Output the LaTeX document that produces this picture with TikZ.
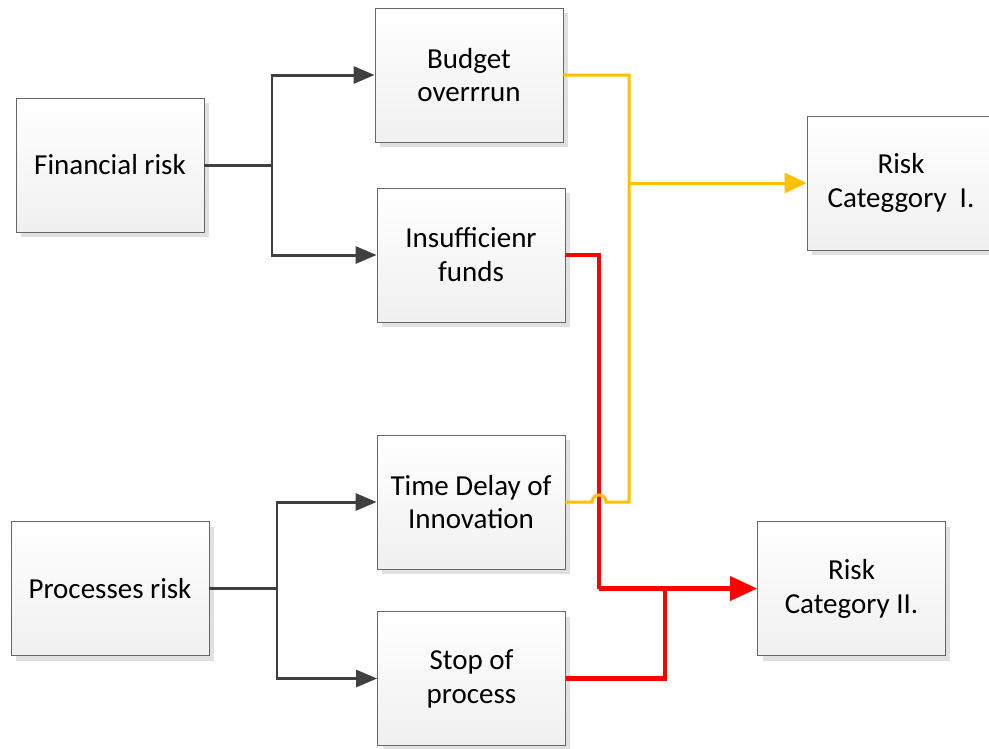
\documentclass[tikz,border=0pt]{standalone}
\usepackage{fontspec}
\setmainfont{Carlito}
\usepackage{tikz}
\usetikzlibrary{arrows.meta,shadows}

\definecolor{linkgray}{HTML}{404040}
\definecolor{riskyellow}{HTML}{FFC000}
\definecolor{riskred}{HTML}{FF0000}

\begin{document}
\begin{tikzpicture}[
  x=0.02cm, y=-0.02cm,
  box/.style={rectangle, draw=black!60, line width=0.5pt, top color=white, bottom color=black!6,
              minimum width=3.76cm, minimum height=2.68cm, align=center,
              font=\fontsize{16.5}{19.3}\selectfont,
              drop shadow={shadow xshift=0.1cm, shadow yshift=-0.1cm, fill=black!12, opacity=1}},
  arr/.style={-{Triangle[length=0.42cm, width=0.34cm]}, line width=1.7pt, linkgray},
  yline/.style={line width=1.7pt, riskyellow},
  yarr/.style={yline, -{Triangle[length=0.44cm, width=0.4cm]}},
  rline/.style={line width=2.3pt, riskred},
  rarr/.style={rline, -{Triangle[length=0.54cm, width=0.48cm]}}
]
  \useasboundingbox (0,0) rectangle (989,748);

  % sources
  \node[box] (fin)  at (110,165)   {Financial risk};
  \node[box, minimum width=3.96cm] (proc) at (110,588.5) {Processes risk};

  % risks
  \node[box] (budget) at (469,75)    {Budget\\overrrun};
  \node[box] (insuf)  at (471,255)   {Insufficienr\\funds};
  \node[box] (delay)  at (471,502)   {Time Delay of\\Innovation};
  \node[box] (stop)   at (471.5,678.5) {Stop of\\process};

  % categories
  \node[box] (cat1) at (901,183)   {Risk\\Categgory\ \ I.};
  \node[box] (cat2) at (851.5,588.5) {Risk\\Category II.};

  % branch points
  \coordinate (fsplit) at (272,165);
  \coordinate (psplit) at (277,588.5);
  \coordinate (ybus)   at (629,183);
  \coordinate (rbus)   at (599,588.5);
  \coordinate (rjoin)  at (665,588.5);

  \draw[line width=1.7pt, linkgray] (fin) -- (fsplit);
  \draw[arr] (fsplit) |- (budget);
  \draw[arr] (fsplit) |- (insuf);
  \draw[line width=1.7pt, linkgray] (proc) -- (psplit);
  \draw[arr] (psplit) |- (delay);
  \draw[arr] (psplit) |- (stop);

  % red links
  \draw[rline] (insuf.east) -| (rbus);
  \draw[rline] (stop.east) -| (rjoin);
  \draw[rarr] (rbus) -- (cat2);

  % yellow links, jumping over the red one
  \draw[yline] (budget.east) -| (ybus) -- (ybus |- delay.east) -- (606,502) arc (0:-180:7) -- (delay.east);
  \draw[yarr] (ybus) -- (cat1);
\end{tikzpicture}
\end{document}
